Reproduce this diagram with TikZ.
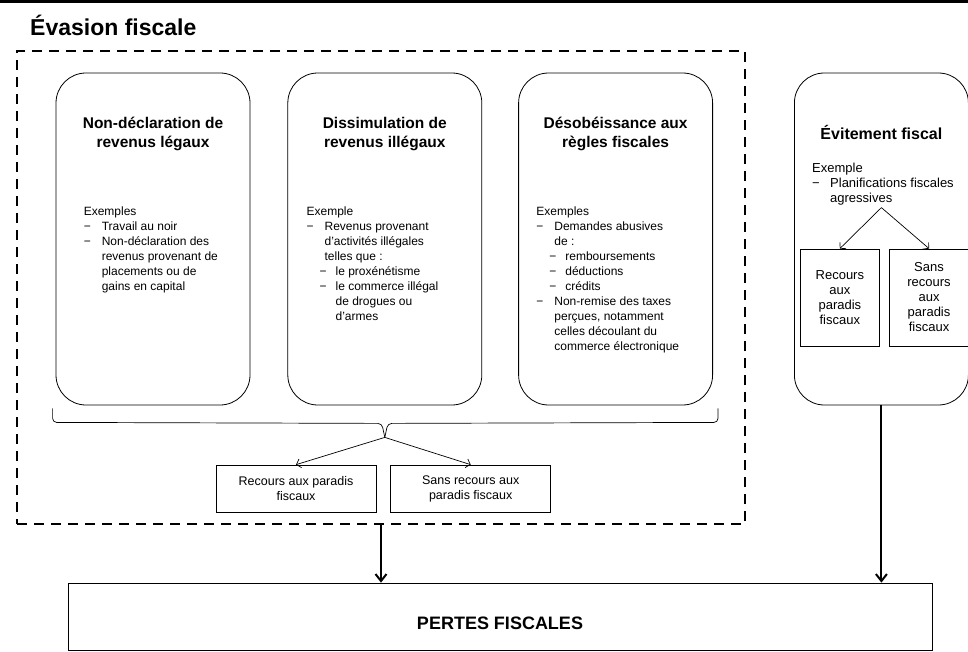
\documentclass[tikz,border=0pt]{standalone}
\usepackage{fontspec}
\setmainfont{Liberation Sans}
\usetikzlibrary{arrows.meta,positioning}

\newcommand{\tiret}{\makebox[18pt][l]{−}}
\newcommand{\suite}{\hspace*{18pt}}
\newcommand{\soustiret}{\hspace*{13pt}\makebox[16pt][l]{−}}
\newcommand{\soussuite}{\hspace*{29pt}}

\begin{document}
\begin{tikzpicture}[x=1pt,y=-1pt,
       bloc/.style={
         rectangle,
         draw=black,
         rounded corners=30pt,
         line width=0.8pt,
         minimum width=194pt,
         minimum height=332pt},
       cadre/.style={
         rectangle,
         draw=black,
         dash pattern=on 10pt off 7pt,
         line width=2.5pt,
         minimum width=728pt,
         minimum height=473pt},
       titre/.style = {align=center, inner sep=0pt, font=\fontsize{15.5}{19}\selectfont\bfseries},
       texte/.style = {align=left, inner sep=0pt, font=\fontsize{12}{15}\selectfont},
       choix/.style = {rectangle, draw, line width=0.7pt, align=center, inner sep=0pt, font=\fontsize{12.5}{15}\selectfont},
       fleche/.style = {-{Straight Barb[length=4pt,width=9pt]}, line width=0.7pt},
       grossefleche/.style = {-{Straight Barb[length=7pt,width=11pt]}, line width=2pt},
node distance=37pt
      ]
      \useasboundingbox (0,0) rectangle (968,652);
      \fill (0,0) rectangle (968,2.7);
      \node[anchor=west, inner sep=0pt, font=\fontsize{23}{28}\selectfont\bfseries] (titre) at (30,25) {Évasion fiscale};
      \node[cadre] (evasion) at (381,287.5) {};

      \node[bloc] (ndr) at (153,239) {};
      \node[bloc, right = of ndr] (dri) {};
      \node[bloc, right = 36pt of dri] (drf) {};
      \node[bloc, minimum width=174pt, right = 81pt of drf] (evi) {};

      \node[titre, below = 44.5pt of ndr.north] (ndr-t) {Non-déclaration de\\revenus légaux};
      \node[titre, below = 44.5pt of dri.north] (dri-t) {Dissimulation de\\revenus illégaux};
      \node[titre, below = 44.5pt of drf.north] (drf-t) {Désobéissance aux\\règles fiscales};
      \node[titre, font=\fontsize{16}{19}\selectfont\bfseries, below = 53pt of evi.north] (evi-t) {Évitement fiscal};

      \node[texte, below right = 134.5pt and 28pt of ndr.north west] (ndr-x) {Exemples\\
        \tiret Travail au noir\\
        \tiret Non-déclaration des\\
        \suite revenus provenant de\\
        \suite placements ou de\\
        \suite gains en capital};
      \node[texte, below right = 134.5pt and 19pt of dri.north west] (dri-x) {Exemple\\
        \tiret Revenus provenant\\
        \suite d'activités illégales\\
        \suite telles que :\\
        \soustiret le proxénétisme\\
        \soustiret le commerce illégal\\
        \soussuite de drogues ou\\
        \soussuite d'armes};
      \node[texte, below right = 134.5pt and 18pt of drf.north west] (drf-x) {Exemples\\
        \tiret Demandes abusives\\
        \suite de :\\
        \soustiret remboursements\\
        \soustiret déductions\\
        \soustiret crédits\\
        \tiret Non-remise des taxes\\
        \suite perçues, notamment\\
        \suite celles découlant du\\
        \suite commerce électronique};
      \node[texte, font=\fontsize{13}{15}\selectfont, below right = 90pt and 18pt of evi.north west] (evi-x) {Exemple\\
        \tiret Planifications fiscales\\
        \suite agressives};

      \node[choix, font=\fontsize{13}{15}\selectfont, minimum width=79pt, minimum height=97pt, below right = 176pt and 6pt of evi.north west] (evi-rap) {Recours\\aux\\paradis\\fiscaux};
      \node[choix, font=\fontsize{13}{15}\selectfont, minimum width=80pt, minimum height=97pt, right = 9pt of evi-rap] (evi-srp) {Sans\\recours\\aux\\paradis\\fiscaux};
      \coordinate[below = 135pt of evi.north] (evi-f);
      \draw[fleche] (evi-f) -- (evi-rap.north);
      \draw[fleche] (evi-f) -- (evi-srp.north);

      \coordinate (acc-g) at ([shift={(-3,3)}]ndr.south west);
      \coordinate (acc-d) at ([shift={(5,3)}]drf.south east);
      \coordinate[below = 32pt of dri.south] (acc-p);
      \draw[line width=0.7pt, rounded corners=4pt] (acc-g) -- ([yshift=-14pt]acc-g) -- ([xshift=-3pt,yshift=14pt]acc-p) -- (acc-p);
      \draw[line width=0.7pt, rounded corners=4pt] (acc-d) -- ([yshift=-14pt]acc-d) -- ([xshift=3pt,yshift=14pt]acc-p) -- (acc-p);

      \node[choix, minimum width=160pt, minimum height=47pt] (rap) at (296,488.5) {Recours aux paradis\\fiscaux};
      \node[choix, minimum width=160pt, minimum height=47pt, right = 14pt of rap] (srp) {Sans recours aux\\paradis fiscaux};
      \draw[fleche] (acc-p) -- (rap.north);
      \draw[fleche] (acc-p) -- (srp.north);

      \node[choix, minimum width=864pt, minimum height=67pt, text height=27pt, font=\fontsize{18}{20}\selectfont\bfseries] (pertes) at (500,616.5) {PERTES FISCALES};
      \draw[grossefleche] (evasion.south) -- (evasion.south |- pertes.north);
      \draw[grossefleche] (evi.south) -- (evi.south |- pertes.north);

\end{tikzpicture}
\end{document}
